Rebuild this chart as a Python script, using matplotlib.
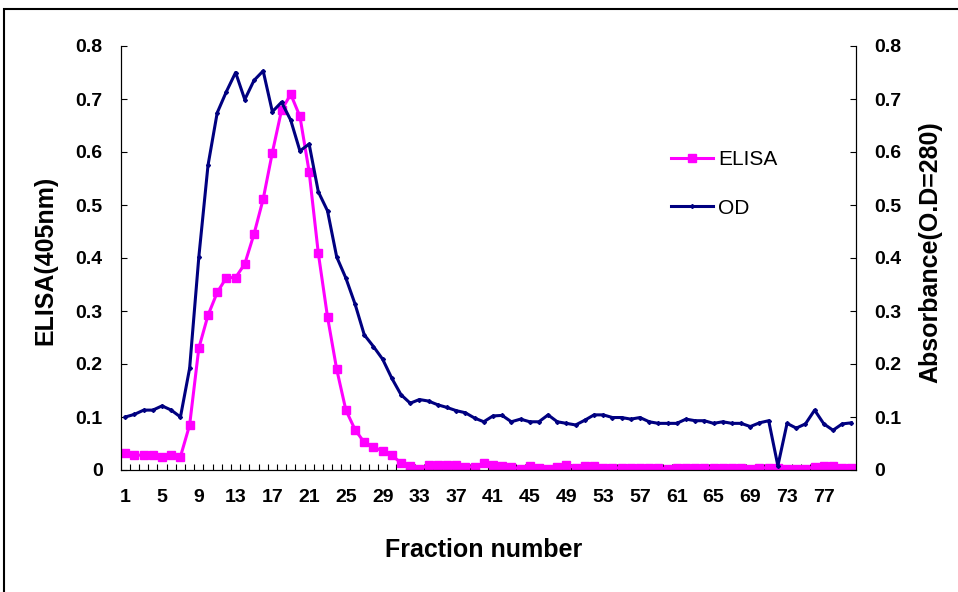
import numpy as np
import matplotlib
matplotlib.use("Agg")
import matplotlib.pyplot as plt
from matplotlib.patches import Rectangle

plt.rcParams['font.family'] = ['Liberation Sans', 'DejaVu Sans']

# Fraction numbers 1..80
fraction = np.arange(1, 81)

# ELISA readings at 405 nm (left axis)
elisa = [0.033, 0.028, 0.028, 0.028, 0.025, 0.028, 0.025, 0.085, 0.230, 0.292,
         0.335, 0.363, 0.363, 0.389, 0.445, 0.511, 0.599, 0.679, 0.709, 0.667,
         0.563, 0.409, 0.289, 0.190, 0.113, 0.076, 0.052, 0.043, 0.036, 0.028,
         0.013, 0.008, 0.002, 0.009, 0.009, 0.009, 0.009, 0.006, 0.006, 0.013,
         0.009, 0.007, 0.006, 0.002, 0.007, 0.003, 0.002, 0.005, 0.010, 0.004,
         0.007, 0.007, 0.004, 0.004, 0.004, 0.004, 0.004, 0.004, 0.004, 0.002,
         0.004, 0.004, 0.004, 0.004, 0.004, 0.004, 0.004, 0.004, 0.002, 0.004,
         0.004, 0.004, 0.002, 0.002, 0.002, 0.006, 0.008, 0.008, 0.004, 0.004]

# Absorbance at 280 nm (right axis)
od = [0.100, 0.105, 0.113, 0.113, 0.121, 0.113, 0.100, 0.192, 0.402, 0.575,
      0.674, 0.714, 0.750, 0.699, 0.735, 0.753, 0.676, 0.694, 0.660, 0.602,
      0.615, 0.525, 0.489, 0.402, 0.362, 0.313, 0.255, 0.233, 0.209, 0.173,
      0.142, 0.126, 0.133, 0.130, 0.123, 0.118, 0.112, 0.108, 0.098, 0.091,
      0.102, 0.103, 0.091, 0.096, 0.091, 0.091, 0.104, 0.091, 0.088, 0.085,
      0.094, 0.104, 0.104, 0.099, 0.099, 0.096, 0.099, 0.091, 0.088, 0.088,
      0.088, 0.096, 0.093, 0.093, 0.088, 0.091, 0.088, 0.088, 0.082, 0.089,
      0.093, 0.008, 0.088, 0.079, 0.087, 0.113, 0.087, 0.075, 0.087, 0.089]

xtick_labels = list(range(1, 78, 4))
yticks = [0, 0.1, 0.2, 0.3, 0.4, 0.5, 0.6, 0.7, 0.8]
ytick_labels = ['0', '0.1', '0.2', '0.3', '0.4', '0.5', '0.6', '0.7', '0.8']

fig = plt.figure(figsize=(9.58, 5.92), dpi=100)
ax = fig.add_axes([120.7/958, 1-470/592, 735.3/958, 424/592])
ax2 = ax.twinx()

l1, = ax.plot(fraction, elisa, color='#FF00FF', lw=2.2, marker='s', ms=6,
              label='ELISA')
l2, = ax2.plot(fraction, od, color='#000080', lw=2.2, marker='D', ms=2,
               label='OD')

for a in (ax, ax2):
    a.set_xlim(0.5, 80.5)
    a.set_ylim(0, 0.8)
    a.set_yticks(yticks)
    a.set_yticklabels(ytick_labels)
    a.spines['top'].set_visible(False)
    for s in a.spines.values():
        s.set_linewidth(0.8)
    a.tick_params(axis='y', direction='in', length=4, width=0.8, labelsize=14,
                  pad=13)
    for t in a.get_yticklabels():
        t.set_fontweight('bold')

ax.set_xticks(xtick_labels)
ax.set_xticklabels([str(v) for v in xtick_labels], fontweight='bold')
ax.set_xticks(np.arange(1.5, 80.5, 1), minor=True)
ax.tick_params(axis='x', which='major', length=0, labelsize=14, pad=14)
ax.tick_params(axis='x', which='minor', direction='in', length=4, width=0.8)

fig.text(45/958, 1-260/592, 'ELISA(405nm)', rotation=90, ha='center',
         va='center', fontsize=18, fontweight='bold')
fig.text(930/958, 1-252/592, 'Absorbance(O.D=280)', rotation=90, ha='center',
         va='center', fontsize=18, fontweight='bold')
fig.text(484/958, 1-550/592, 'Fraction number', ha='center', va='center',
         fontsize=18, fontweight='bold')

ax2.legend([l1, l2], ['ELISA', 'OD'], loc='center left',
           bbox_to_anchor=(671/958, 1-184/592), bbox_transform=fig.transFigure,
           frameon=False, fontsize=15, handlelength=2.0, handletextpad=0.25,
           labelspacing=1.4, borderpad=0, borderaxespad=0)

fig.patches.append(Rectangle((4/958, -0.1), 1.2, 1-9/592+0.1,
                             transform=fig.transFigure, fill=False,
                             edgecolor='black', lw=1.5))

fig.savefig('out.png', dpi=100)
